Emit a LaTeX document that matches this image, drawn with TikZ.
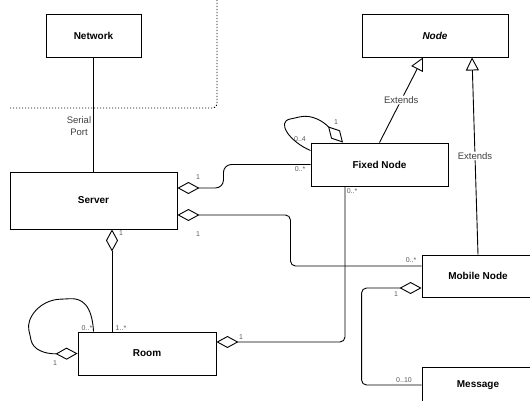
\documentclass[tikz,border=0pt]{standalone}
\usepackage{fontspec}
\setmainfont{Liberation Sans}
\usetikzlibrary{arrows.meta}
\begin{document}
\begin{tikzpicture}[x=1pt,y=-1pt,
	box/.style={draw, fill=white, line width=0.9pt, inner sep=0pt, font=\bfseries\fontsize{10}{12}\selectfont},
	lien/.style={line width=0.9pt, rounded corners=5pt},
	agg/.style={lien, {Diamond[open,length=22pt,width=12pt]}-},
	aggfin/.style={lien, -{Diamond[open,length=22pt,width=12pt]}},
	herite/.style={lien, -{Triangle[open,length=13pt,width=13pt]}},
	mult/.style={font=\fontsize{7}{8}\selectfont, text=black!65, inner sep=0pt},
	etiq/.style={font=\fontsize{9.5}{12}\selectfont, text=black!75, inner sep=1pt}]
	\useasboundingbox (0,0) rectangle (530,401);
	\draw[line width=0.9pt, dash pattern=on 1.2pt off 1.8pt, rounded corners=4pt] (10,108) -- (217,108) -- (217,0);
	\node[box, minimum width=95pt, minimum height=43pt] (Network) at (93.5,35.5) {Network};
	\node[box, minimum width=146pt, minimum height=43pt, font=\bfseries\itshape\fontsize{10}{12}\selectfont] (Node) at (435,35.5) {Node};
	\node[box, minimum width=167pt, minimum height=57pt] (Server) at (93.5,200.5) {Server};
	\node[box, minimum width=137pt, minimum height=43pt] (FixedNode) at (379.5,164.5) {Fixed Node};
	\node[box, minimum width=138pt, minimum height=43pt] (Room) at (147,353.5) {Room};
	\node[box, minimum width=112pt, minimum height=42pt] (MobileNode) at (478,276) {Mobile Node};
	\node[box, minimum width=112pt, minimum height=36pt] (Message) at (478,385) {Message};
	\draw[lien] (Network) -- (Server);
	\node[etiq, align=center] (port) at (79,126) {Serial\\Port};
	\draw[agg, rounded corners=8pt] ([yshift=12.5pt]Server.east) -- ++(46,0) |- (FixedNode.west);
	\draw[agg] ([yshift=-14.5pt]Server.east) -- ++(113,0) |- ([yshift=10pt]MobileNode.west);
	\draw[agg] ([xshift=18.5pt]Server.south) -- ([xshift=18.5pt]Server.south |- Room.north);
	\draw[aggfin] ([xshift=-34.5pt]FixedNode.south) |- ([yshift=11.5pt]Room.east);
	\draw[aggfin] ([xshift=16pt]Room.north west) .. controls (92,305) and (82,298) .. (65,299) .. controls (40,300) and (26,318) .. (30,335) .. controls (33,350) and (45,354) .. (Room.west);
	\draw[aggfin] ([yshift=14pt]FixedNode.west) .. controls (290,142) and (276,122) .. (295,118) .. controls (312,114) and (324,122) .. ([xshift=-36.5pt]FixedNode.north);
	\draw[agg] ([yshift=-12pt]MobileNode.west) -- ++(-60,0) |- (Message.west);
	\draw[herite] (FixedNode.north) -- ([xshift=-12pt]Node.south) node[etiq, fill=white, pos=0.5] (ext1) {Extends};
	\draw[herite] (MobileNode.north) -- ([xshift=37pt]Node.south) node[etiq, fill=white, pos=0.5] (ext2) {Extends};
	\node[mult] (mSF) at (198,177) {1};
	\node[mult] (mFS) at (300,169) {0..*};
	\node[mult] (mFF1) at (300,139) {0..4};
	\node[mult] (mFF2) at (336,122) {1};
	\node[mult] (mFR) at (352,191) {0..*};
	\node[mult] (mSM) at (198,234) {1};
	\node[mult] (mMS) at (411,260) {0..*};
	\node[mult] (mSR) at (121,233) {1};
	\node[mult] (mRS) at (121,328) {1..*};
	\node[mult] (mRR1) at (87,328) {0..*};
	\node[mult] (mRR2) at (55,363) {1};
	\node[mult] (mRF) at (241,337) {1};
	\node[mult] (mMM) at (396,294) {1};
	\node[mult] (mMe) at (404,380) {0..10};
\end{tikzpicture}
\end{document}
